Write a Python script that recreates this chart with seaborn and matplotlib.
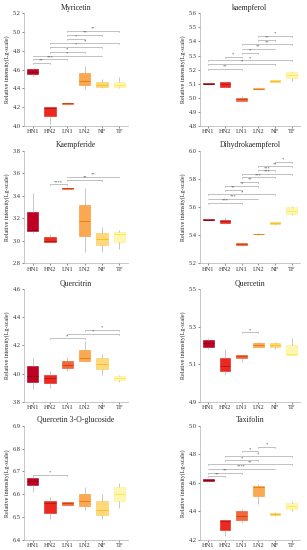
import numpy as np
import pandas as pd
import seaborn as sns
import matplotlib.pyplot as plt
import colorsys
import matplotlib.colors as mcolors

groups = ["HN1", "HN2", "LN1", "LN2", "NF", "TF"]
group_colors = ["#BF0022", "#EC2920", "#F1683A", "#FBA852", "#FDD87C", "#FEF6B2"]

# five-number summaries: min, q1, median, q3, max
myricetin = [[4.52, 4.55, 4.58, 4.61, 4.62], [4.02, 4.11, 4.19, 4.20, 4.20],
             [4.22, 4.23, 4.24, 4.25, 4.26], [4.39, 4.44, 4.48, 4.56, 4.64],
             [4.40, 4.41, 4.44, 4.47, 4.50], [4.40, 4.41, 4.44, 4.47, 4.52]]
kaempferol = [[5.09, 5.095, 5.10, 5.103, 5.105], [5.07, 5.08, 5.095, 5.11, 5.12],
              [4.97, 4.98, 4.99, 5.00, 5.01], [5.055, 5.06, 5.065, 5.07, 5.075],
              [5.11, 5.115, 5.12, 5.125, 5.13], [5.12, 5.14, 5.16, 5.18, 5.19]]
kaempferide = [[3.07, 3.09, 3.10, 3.26, 3.42], [2.98, 2.99, 3.00, 3.03, 3.06],
               [3.455, 3.46, 3.465, 3.47, 3.475], [2.90, 3.04, 3.18, 3.32, 3.47],
               [2.90, 2.96, 3.02, 3.07, 3.12], [2.93, 2.99, 3.06, 3.08, 3.10]]
dihydrokaempferol = [[5.50, 5.505, 5.51, 5.515, 5.52], [5.48, 5.485, 5.50, 5.51, 5.53],
                     [5.32, 5.33, 5.335, 5.345, 5.35], [5.40, 5.405, 5.408, 5.41, 5.415],
                     [5.475, 5.48, 5.485, 5.49, 5.495], [5.54, 5.55, 5.575, 5.60, 5.61]]
quercitrin = [[3.89, 3.94, 3.98, 4.05, 4.11], [3.90, 3.93, 3.965, 3.99, 4.02],
              [4.02, 4.04, 4.06, 4.09, 4.12], [4.08, 4.09, 4.11, 4.17, 4.23],
              [3.99, 4.03, 4.07, 4.11, 4.14], [3.94, 3.955, 3.965, 3.98, 3.99]]
quercetin = [[5.18, 5.19, 5.21, 5.23, 5.24], [5.04, 5.065, 5.09, 5.13, 5.18],
             [5.11, 5.13, 5.145, 5.15, 5.15], [5.19, 5.19, 5.20, 5.21, 5.22],
             [5.18, 5.19, 5.20, 5.21, 5.22], [5.15, 5.15, 5.155, 5.20, 5.24]]
q3g = [[6.61, 6.64, 6.66, 6.67, 6.68], [6.49, 6.52, 6.56, 6.57, 6.59],
       [6.555, 6.555, 6.56, 6.565, 6.57], [6.53, 6.55, 6.57, 6.60, 6.63],
       [6.49, 6.51, 6.53, 6.57, 6.60], [6.54, 6.57, 6.60, 6.63, 6.65]]
taxifolin = [[4.61, 4.615, 4.62, 4.625, 4.63], [4.23, 4.27, 4.33, 4.34, 4.35],
             [4.32, 4.34, 4.37, 4.40, 4.42], [4.45, 4.51, 4.57, 4.58, 4.59],
             [4.37, 4.375, 4.385, 4.39, 4.395], [4.40, 4.42, 4.44, 4.46, 4.47]]

# significance brackets: group a, group b, height, label
myricetin_sig = [("HN1", "HN2", 4.67, "**"), ("HN1", "LN1", 4.71, "***"), ("HN1", "NF", 4.75, "*"),
                 ("HN2", "LN2", 4.79, "*"), ("HN2", "NF", 4.84, "*"), ("HN2", "TF", 4.88, "*"),
                 ("LN1", "LN2", 4.93, "*"), ("LN1", "NF", 4.97, "**"), ("LN1", "TF", 5.01, "**")]
kaempferol_sig = [("HN1", "LN1", 5.205, "**"), ("HN1", "NF", 5.24, "*"), ("HN1", "TF", 5.265, "*"),
                  ("HN2", "LN1", 5.29, "*"), ("LN1", "LN2", 5.32, "*"), ("LN1", "NF", 5.35, "**"),
                  ("LN1", "TF", 5.38, "**"), ("LN2", "NF", 5.41, "**"), ("LN2", "TF", 5.44, "*")]
kaempferide_sig = [("HN2", "LN1", 3.50, "****"), ("LN1", "NF", 3.54, "**"), ("LN1", "TF", 3.57, "**")]
dihydro_sig = [("HN1", "LN1", 5.63, "***"), ("HN1", "LN2", 5.66, "***"), ("HN1", "NF", 5.69, "*"),
               ("HN2", "LN1", 5.72, "**"), ("HN2", "LN2", 5.75, "**"), ("LN1", "LN2", 5.78, "**"),
               ("LN1", "NF", 5.81, "***"), ("LN1", "TF", 5.835, "***"), ("LN2", "NF", 5.86, "***"),
               ("LN2", "TF", 5.89, "**"), ("NF", "TF", 5.92, "*")]
quercitrin_sig = [("HN2", "LN2", 4.25, "*"), ("LN1", "TF", 4.28, "*"), ("LN2", "TF", 4.31, "*")]
quercetin_sig = [("LN1", "LN2", 5.27, "*")]
q3g_sig = [("HN1", "LN1", 6.684, "*")]
taxifolin_sig = [("HN1", "HN2", 4.645, "**"), ("HN1", "LN1", 4.67, "**"), ("HN1", "NF", 4.70, "****"),
                 ("HN1", "TF", 4.73, "**"), ("HN2", "LN2", 4.757, "*"), ("HN2", "TF", 4.785, "*"),
                 ("LN1", "LN2", 4.82, "*"), ("LN2", "NF", 4.85, "*")]

panels = [
    ("Myricetin", myricetin, (4.0, 5.2, 0.2), myricetin_sig),
    ("kaempferol", kaempferol, (4.8, 5.6, 0.1), kaempferol_sig),
    ("Kaempferide", kaempferide, (2.8, 3.8, 0.2), kaempferide_sig),
    ("Dihydrokaempferol", dihydrokaempferol, (5.2, 6.0, 0.2), dihydro_sig),
    ("Quercitrin", quercitrin, (3.8, 4.6, 0.2), quercitrin_sig),
    ("Quercetin", quercetin, (4.9, 5.5, 0.2), quercetin_sig),
    ("Quercetin 3-O-glucoside", q3g, (6.4, 6.9, 0.1), q3g_sig),
    ("Taxifolin", taxifolin, (4.2, 5.0, 0.2), taxifolin_sig),
]


def shade(c, f):
    r, g, b = mcolors.to_rgb(c)
    h, l, s = colorsys.rgb_to_hls(r, g, b)
    return colorsys.hls_to_rgb(h, max(0, min(1, l * f)), s)


sns.set_style("ticks")
plt.rcParams["font.family"] = ["Liberation Serif", "DejaVu Serif"]

fig = plt.figure(figsize=(3.07, 5.5), dpi=100)
W, H = 307, 550
cols = [(24, 104), (200, 100)]
rows = [(13.3, 126), (150.7, 263.3), (289, 401.7), (425.7, 540)]

for k, (name, summ, (lo, hi, step), sig) in enumerate(panels):
    r, c = divmod(k, 2)
    x0, w = cols[c]
    top, bot = rows[r]
    ax = fig.add_axes([x0 / W, 1 - bot / H, w / W, (bot - top) / H])

    df = pd.DataFrame([(g, v) for g, vals in zip(groups, summ) for v in vals],
                      columns=["group", "value"])
    sns.boxplot(data=df, x="group", y="value", hue="group", order=groups, hue_order=groups,
                palette=group_colors, width=0.65, whis=np.inf, showcaps=False,
                linewidth=0.5, linecolor="#999999", saturation=1, legend=False, ax=ax)

    for i, p in enumerate(ax.patches):
        p.set_edgecolor(shade(group_colors[i], 0.88))
        p.set_linewidth(0.4)
    for ln in ax.lines:
        xd, yd = np.asarray(ln.get_xdata()), np.asarray(ln.get_ydata())
        if len(yd) == 2 and yd[0] == yd[1] and abs(xd[1] - xd[0]) > 0.3:
            i = int(round(xd.mean()))
            ln.set_color(shade(group_colors[i], 0.72))
            ln.set_linewidth(0.6)
        else:
            ln.set_color("#a8a8a8")
            ln.set_linewidth(0.45)

    span = hi - lo
    for a, b, y, lab in sig:
        xa, xb = groups.index(a), groups.index(b)
        d = span * 0.008
        ax.plot([xa, xa, xb, xb], [y - d, y, y, y - d], color="#a8a8a8", lw=0.5)
        ax.text((xa + xb) / 2, y + span * 0.002, lab, ha="center", va="bottom",
                fontsize=3.2, color="#444444")

    ax.set_xlim(-0.5, 5.5)
    ax.set_ylim(lo, hi)
    ticks = np.round(np.arange(lo, hi + step / 2, step), 2)
    ax.set_yticks(ticks)
    ax.set_yticklabels([f"{t:.1f}" for t in ticks])
    ax.set_title(name, fontsize=5.6, pad=2.5)
    ax.set_xlabel("")
    ax.set_ylabel("Relative intensity(Lg-scale)", fontsize=4.3, labelpad=2)
    ax.tick_params(labelsize=4.6, length=1.5, width=0.4, pad=1, colors="#333333")
    sns.despine(ax=ax)
    for s in ["left", "bottom"]:
        ax.spines[s].set_color("#b0b0b0")
        ax.spines[s].set_linewidth(0.5)

fig.savefig("out.png", dpi=100)
